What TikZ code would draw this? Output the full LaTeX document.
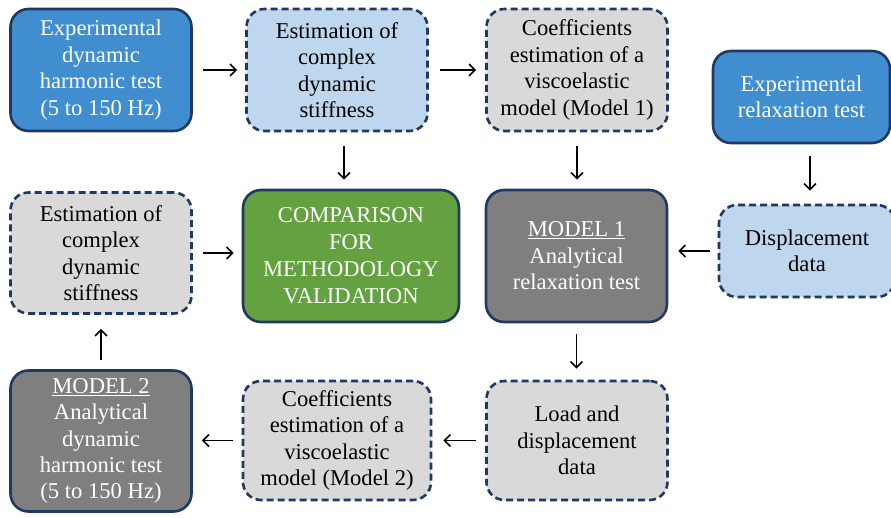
\documentclass[tikz,border=0pt]{standalone}
\usepackage{fontspec}
\setmainfont{Liberation Serif}
\usetikzlibrary{arrows.meta}
\definecolor{navy}{RGB}{31,56,100}
\definecolor{midblue}{RGB}{64,142,208}
\definecolor{lightblue}{RGB}{190,214,238}
\definecolor{lightgray}{RGB}{217,217,217}
\definecolor{darkgray}{RGB}{127,127,127}
\definecolor{okgreen}{RGB}{100,161,64}
\tikzset{
  box/.style={draw=navy, line width=2.6pt, rounded corners=18pt, align=center,
    font=\fontsize{22.6}{26.4}\selectfont, inner sep=0pt},
  solidbox/.style={box, text=white},
  dashbox/.style={box, dash pattern=on 7pt off 4pt, text=black},
  arr/.style={-{Straight Barb[length=6pt,width=12pt,line width=1.6pt]}, line width=1.8pt, black},
}
\begin{document}
\begin{tikzpicture}[x=1pt,y=-1pt]
\useasboundingbox (0,0) rectangle (891,517);
% row 1
\node[solidbox, fill=midblue, minimum width=181pt, minimum height=122pt] (A) at (101,70)
  {Experimental\\dynamic\\harmonic test\\(5 to 150 Hz)};
\node[dashbox, fill=lightblue, minimum width=181pt, minimum height=122pt] (B) at (337,70)
  {Estimation of\\complex\\dynamic\\stiffness};
\node[dashbox, fill=lightgray, minimum width=181pt, minimum height=122pt] (C) at (577,70)
  {Coefficients\\estimation of a\\viscoelastic\\model (Model 1)};
\node[solidbox, fill=midblue, minimum width=177pt, minimum height=92pt] (D) at (801.5,97)
  {Experimental\\relaxation test};
% row 2
\node[dashbox, fill=lightgray, minimum width=181pt, minimum height=121pt] (E) at (101,253)
  {Estimation of\\complex\\dynamic\\stiffness};
\node[solidbox, fill=okgreen, minimum width=216pt, minimum height=132pt, font=\fontsize{22.6}{27}\selectfont] (F) at (351,256)
  {COMPARISON\\FOR\\METHODOLOGY\\VALIDATION};
\node[solidbox, fill=darkgray, minimum width=181pt, minimum height=132pt] (G) at (576.5,256)
  {\underline{MODEL 1}\\Analytical\\relaxation test};
\node[dashbox, fill=lightblue, minimum width=176pt, minimum height=92pt] (H) at (807,251)
  {Displacement\\data};
% row 3
\node[solidbox, fill=darkgray, minimum width=181pt, minimum height=141pt] (I) at (101,441)
  {\underline{MODEL 2}\\Analytical\\dynamic\\harmonic test\\(5 to 150 Hz)};
\node[dashbox, fill=lightgray, minimum width=188pt, minimum height=119pt] (J) at (337,440.5)
  {Coefficients\\estimation of a\\viscoelastic\\model (Model 2)};
\node[dashbox, fill=lightgray, minimum width=181pt, minimum height=119pt] (K) at (577,440.5)
  {Load and\\displacement\\data};
% arrows
\draw[arr, shorten <=10pt, shorten >=8pt] (A.east) -- (B.west);
\draw[arr, shorten <=11pt, shorten >=9pt] (B.east) -- (C.west);
\draw[arr, shorten <=14pt, shorten >=9pt] ([xshift=7pt]B.south) -- ([xshift=-7pt]F.north);
\draw[arr, shorten <=14pt, shorten >=9pt] (C.south) -- (G.north -| C.south);
\draw[arr, shorten <=12pt, shorten >=13pt] ([xshift=8.5pt]D.south) -- ([xshift=3pt]H.north);
\draw[arr, shorten <=8pt, shorten >=10pt] (H.west) -- (H.west -| G.east);
\draw[arr, shorten <=10pt, shorten >=8pt] (E.east) -- (E.east -| F.west);
\draw[arr, shorten <=11pt, shorten >=11pt] (G.south) -- (K.north -| G.south);
\draw[arr, shorten <=9pt, shorten >=11pt] (K.west) -- (J.east);
\draw[arr, shorten <=9pt, shorten >=9pt] (J.west) -- (J.west -| I.east);
\draw[arr, shorten <=9pt, shorten >=14pt] (I.north) -- (E.south);
\end{tikzpicture}
\end{document}
